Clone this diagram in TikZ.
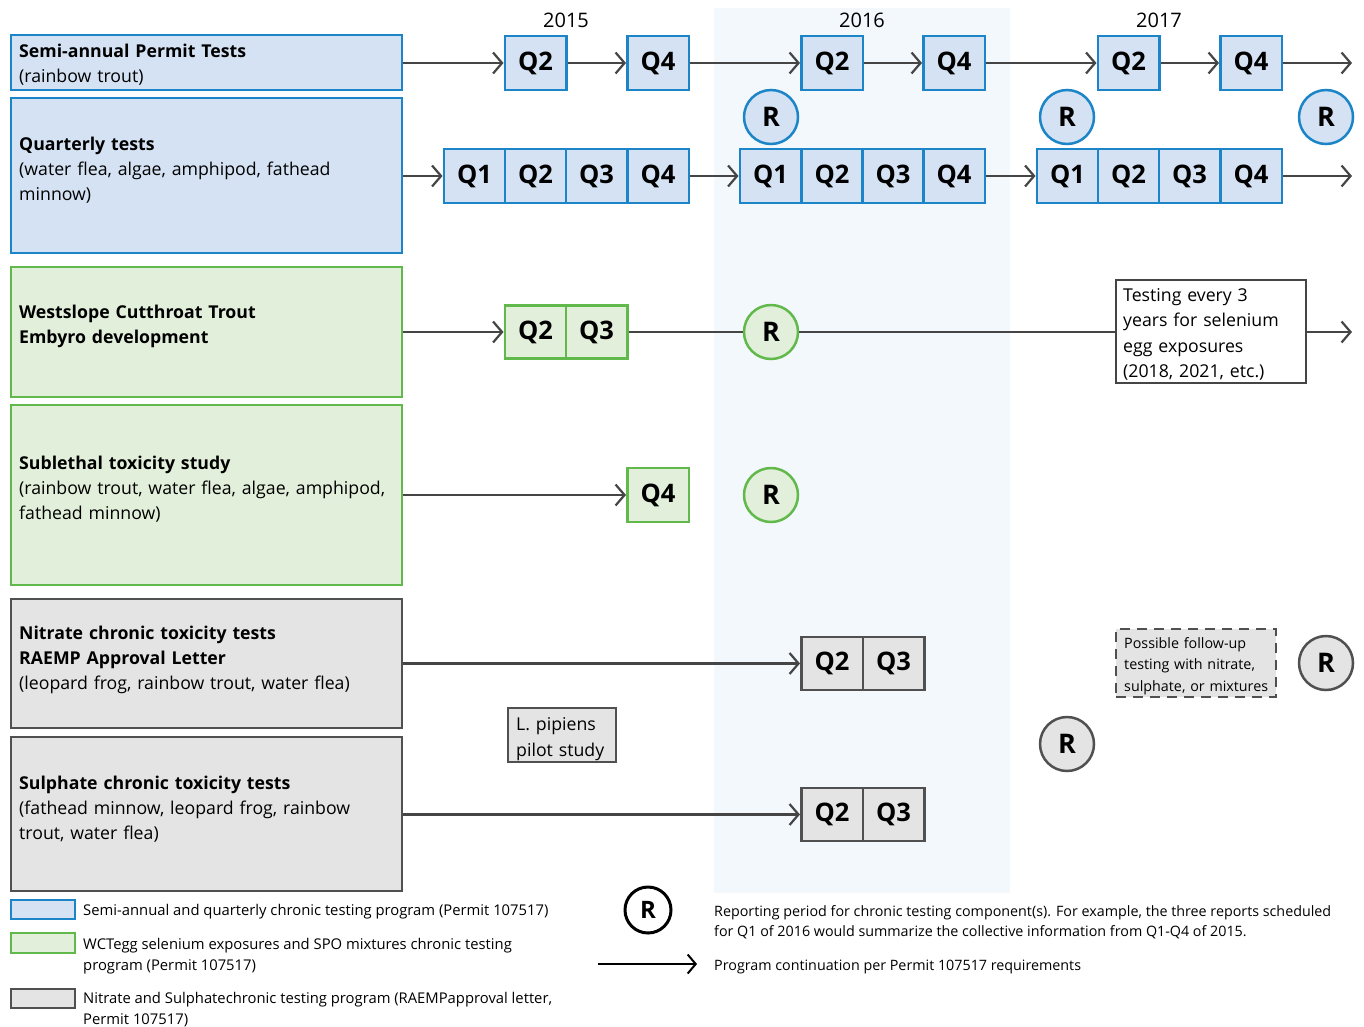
\documentclass[tikz,border=0pt]{standalone}
\usepackage{fontspec}
\setmainfont{Open Sans}
\usetikzlibrary{arrows.meta}
\definecolor{blueD}{HTML}{1B85C8}
\definecolor{blueF}{HTML}{D4E2F4}
\definecolor{greenD}{HTML}{62B94B}
\definecolor{greenF}{HTML}{E2EFDA}
\definecolor{grayD}{HTML}{505050}
\definecolor{grayF}{HTML}{E4E4E4}
\definecolor{bandc}{HTML}{F3F8FC}
\definecolor{arrowc}{HTML}{454545}
\tikzset{
  box/.style={rectangle, draw, line width=2.5pt, inner sep=0pt},
  bluebox/.style={draw=blueD, fill=blueF},
  greenbox/.style={draw=greenD, fill=greenF},
  graybox/.style={draw=grayD, fill=grayF},
  leftbox/.style={box, minimum width=391pt},
  lbltext/.style={anchor=west, align=left, inner sep=0pt, text width=380pt, font=\fontsize{17.7}{25}\selectfont},
  boxtext/.style={anchor=west, align=left, inner sep=0pt},
  qbox/.style={box, minimum width=61.5pt, minimum height=54pt, font=\fontsize{25.5}{25.5}\selectfont\bfseries},
  rcirc/.style={circle, line width=2.5pt, minimum size=54pt, inner sep=0pt, font=\fontsize{27}{27}\selectfont\bfseries},
  arr/.style={draw=arrowc, line width=2.2pt, -{Straight Barb[length=9pt,width=21pt]}},
  ln/.style={draw=arrowc, line width=2.2pt},
  yearlbl/.style={font=\fontsize{20}{20}\selectfont, inner sep=0pt},
  legtext/.style={anchor=west, align=left, inner sep=0pt, font=\fontsize{14.8}{21}\selectfont},
}
\begin{document}
\begin{tikzpicture}[x=1pt,y=-1pt]
\useasboundingbox (0,0) rectangle (1364,1026);
\fill[bandc] (714,8) rectangle (1010,893);

% year labels
\node[yearlbl] (y15) at (566,20) {2015};
\node[yearlbl] (y16) at (862,20) {2016};
\node[yearlbl] (y17) at (1159,20) {2017};

% left boxes
\node[leftbox, bluebox, minimum height=55pt] (b1) at (206.5,62.5) {};
\node[leftbox, bluebox, minimum height=155pt] (b2) at (206.5,175.5) {};
\node[leftbox, greenbox, minimum height=130pt] (b3) at (206.5,332) {};
\node[leftbox, greenbox, minimum height=180pt] (b4) at (206.5,495) {};
\node[leftbox, graybox, minimum height=129pt] (b5) at (206.5,663.5) {};
\node[leftbox, graybox, minimum height=154pt] (b6) at (206.5,814) {};

\node[lbltext] (t1) at (19,64.5) {\textbf{Semi-annual Permit Tests}\\(rainbow trout)};
\node[lbltext] (t2) at (19,170.5) {\textbf{Quarterly tests}\\(water flea, algae, amphipod, fathead\\minnow)};
\node[lbltext] (t3) at (19,326.5) {\textbf{Westslope Cutthroat Trout}\\\textbf{Embyro development}};
\node[lbltext] (t4) at (19,489.5) {\textbf{Sublethal toxicity study}\\(rainbow trout, water flea, algae, amphipod,\\fathead minnow)};
\node[lbltext] (t5) at (19,659.5) {\textbf{Nitrate chronic toxicity tests}\\\textbf{RAEMP Approval Letter}\\(leopard frog, rainbow trout, water flea)};
\node[lbltext] (t6) at (19,809) {\textbf{Sulphate chronic toxicity tests}\\(fathead minnow, leopard frog, rainbow\\trout, water flea)};

% row 1
\node[qbox, bluebox] (r1a) at (535.5,63) {Q2};
\node[qbox, bluebox] (r1b) at (658,63) {Q4};
\node[qbox, bluebox] (r1c) at (832,63) {Q2};
\node[qbox, bluebox] (r1d) at (954,63) {Q4};
\node[qbox, bluebox] (r1e) at (1128.5,63) {Q2};
\node[qbox, bluebox] (r1f) at (1251,63) {Q4};
\coordinate (e1) at (1352,63);
\draw[arr] (b1.east |- r1a) -- (r1a.west);
\draw[arr] (r1a.east) -- (r1b.west);
\draw[arr] (r1b.east) -- (r1c.west);
\draw[arr] (r1c.east) -- (r1d.west);
\draw[arr] (r1d.east) -- (r1e.west);
\draw[arr] (r1e.east) -- (r1f.west);
\draw[arr] (r1f.east) -- (e1);

% row 2
\node[qbox, bluebox] (r2a) at (474.5,176) {Q1};
\node[qbox, bluebox] (r2b) at (535.5,176) {Q2};
\node[qbox, bluebox] (r2c) at (596.5,176) {Q3};
\node[qbox, bluebox] (r2d) at (658,176) {Q4};
\node[qbox, bluebox] (r2e) at (770.5,176) {Q1};
\node[qbox, bluebox] (r2f) at (832,176) {Q2};
\node[qbox, bluebox] (r2g) at (893,176) {Q3};
\node[qbox, bluebox] (r2h) at (954,176) {Q4};
\node[qbox, bluebox] (r2i) at (1067.5,176) {Q1};
\node[qbox, bluebox] (r2j) at (1128.5,176) {Q2};
\node[qbox, bluebox] (r2k) at (1189.5,176) {Q3};
\node[qbox, bluebox] (r2l) at (1251,176) {Q4};
\coordinate (e2) at (1352,176);
\draw[arr] (b2.east |- r2a) -- (r2a.west);
\draw[arr] (r2d.east) -- (r2e.west);
\draw[arr] (r2h.east) -- (r2i.west);
\draw[arr] (r2l.east) -- (e2);

% R circles (blue)
\node[rcirc, bluebox] (R1) at (771,117) {R};
\node[rcirc, bluebox] (R2) at (1067,117) {R};
\node[rcirc, bluebox] (R3) at (1326,117) {R};

% row 3
\node[qbox, greenbox, minimum height=53pt] (g3a) at (535.5,332) {Q2};
\node[qbox, greenbox, minimum height=53pt] (g3b) at (596.5,332) {Q3};
\node[rcirc, greenbox] (R4) at (771,332) {R};
\node[box, draw=arrowc, fill=white, minimum width=190pt, minimum height=103pt] (tb) at (1211,331.5) {};
\node[boxtext, text width=180pt, font=\fontsize{17.7}{25.5}\selectfont] (tbt) at (1123,334.5) {Testing every 3\\years for selenium\\egg exposures\\(2018, 2021, etc.)};
\coordinate (e3) at (1352,332);
\draw[arr] (b3.east |- g3a) -- (g3a.west);
\draw[ln] (g3b.east) -- (R4.west);
\draw[ln] (R4.east) -- (tb.west |- R4);
\draw[arr] (tb.east |- e3) -- (e3);

% row 4
\node[qbox, greenbox] (g4) at (658,495) {Q4};
\node[rcirc, greenbox] (R5) at (771,495) {R};
\draw[arr] (b4.east |- g4) -- (g4.west);

% row 5
\node[qbox, graybox, minimum height=53pt] (n5a) at (832,663.5) {Q2};
\node[qbox, graybox, minimum height=53pt] (n5b) at (893.5,663.5) {Q3};
\draw[arr] (b5.east |- n5a) -- (n5a.west);
\node[box, graybox, dash pattern=on 10pt off 7pt, minimum width=160pt, minimum height=68pt] (fb) at (1196,663) {};
\node[boxtext, text width=150pt, font=\fontsize{14.3}{21.5}\selectfont] (fbt) at (1124,666) {Possible follow-up\\testing with nitrate,\\sulphate, or mixtures};
\node[rcirc, graybox] (R6) at (1326,663) {R};

\node[box, graybox, minimum width=108pt, minimum height=54pt] (lp) at (562,735) {};
\node[boxtext, text width=100pt, font=\fontsize{17.7}{26}\selectfont] (lpt) at (516,739) {L. pipiens\\pilot study};
\node[rcirc, graybox] (R7) at (1067,744) {R};

% row 6
\node[qbox, graybox, minimum height=53pt] (n6a) at (832,814.5) {Q2};
\node[qbox, graybox, minimum height=53pt] (n6b) at (893.5,814.5) {Q3};
\draw[arr] (b6.east |- n6a) -- (n6a.west);

% legend
\node[box, bluebox, minimum width=64pt, minimum height=19pt] (lg1) at (43,909.5) {};
\node[box, greenbox, minimum width=64pt, minimum height=20pt] (lg2) at (43,943) {};
\node[box, graybox, minimum width=64pt, minimum height=19pt] (lg3) at (43,998.5) {};
\node[legtext] (lt1) at (83,912) {Semi-annual and quarterly chronic testing program (Permit 107517)};
\node[legtext] (lt2) at (83,956) {WCTegg selenium exposures and SPO mixtures chronic testing\\program (Permit 107517)};
\node[legtext] (lt3) at (83,1010) {Nitrate and Sulphatechronic testing program (RAEMPapproval letter,\\Permit 107517)};

\node[circle, draw=black, line width=3pt, fill=white, minimum size=46pt, inner sep=0pt, font=\fontsize{24}{24}\selectfont\bfseries] (lR) at (648,910) {R};
\coordinate (la) at (598,964);
\coordinate (lb) at (697,964);
\draw[draw=black, line width=2pt, -{Straight Barb[length=8pt,width=19pt]}] (la) -- (lb);
\node[legtext, font=\fontsize{14.3}{20}\selectfont] (lr1) at (714,922) {Reporting period for chronic testing component(s). For example, the three reports scheduled\\for Q1 of 2016 would summarize the collective information from Q1-Q4 of 2015.};
\node[legtext, font=\fontsize{14.3}{20}\selectfont] (lr2) at (714,967) {Program continuation per Permit 107517 requirements};
\end{tikzpicture}
\end{document}
